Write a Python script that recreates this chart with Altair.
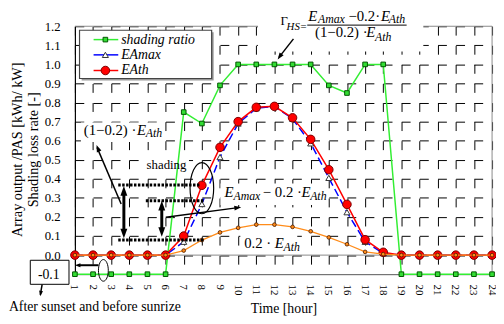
import altair as alt
import pandas as pd

FONT = "Liberation Serif"

# ---------------- data ----------------
hours = [1, 2, 3, 4, 5, 6, 7, 8, 9, 10, 11, 12, 13, 14, 15, 16, 17, 18, 19, 20, 21, 22, 23, 24]
shading_ratio = [-0.1, -0.1, -0.1, -0.1, -0.1, -0.1, 0.75, 0.69, 0.89, 1.0, 1.0, 1.0,
                 1.0, 1.0, 0.89, 0.85, 1.0, 1.0, -0.1, -0.1, -0.1, -0.1, -0.1, -0.1]
ea_max = [0, 0, 0, 0, 0, 0, 0.07, 0.268, 0.514, 0.69, 0.77, 0.78,
          0.715, 0.586, 0.405, 0.225, 0.07, 0.01, 0, 0, 0, 0, 0, 0]
ea_th = [0, 0, 0, 0, 0, 0, 0.10, 0.366, 0.565, 0.70, 0.775, 0.78,
         0.72, 0.607, 0.448, 0.266, 0.081, 0.015, 0, 0, 0, 0, 0, 0]
ea_th_02 = [0, 0, 0, 0, 0, 0, 0.024, 0.079, 0.119, 0.143, 0.160, 0.160,
            0.148, 0.125, 0.093, 0.057, 0.017, 0.005, 0, 0, 0, 0, 0, 0]
y_ticks = [0.0, 0.1, 0.2, 0.3, 0.4, 0.5, 0.6, 0.7, 0.8, 0.9, 1.0, 1.1, 1.2]
legend_labels = ["shading ratio", "EAmax", "EAth"]

df = pd.DataFrame({"h": hours, "shade": shading_ratio, "amax": ea_max,
                   "ath": ea_th, "a02": ea_th_02})

# ---------------- scales / axes ----------------
xs = alt.Scale(domain=[1, 24], nice=False, zero=False)
ys = alt.Scale(domain=[-0.1, 1.2], nice=False, zero=False)
xa = alt.Axis(values=hours, labelAngle=90, labelAlign="left", labelBaseline="middle",
              labelFont=FONT, labelFontSize=11, labelColor="#000", labelPadding=10,
              labelOffset=-1,
              ticks=False, grid=True, gridColor="#000", gridDash=[9, 10.4], gridWidth=1,
              domainColor="#555", domainWidth=1,
              titleFont=FONT, titleFontSize=14, titleFontWeight="normal", titleColor="#000",
              titleX=212, titleY=39, titleBaseline="alphabetic", titleAlign="center")
ya = alt.Axis(values=y_ticks, format=".1f", labelFont=FONT, labelFontSize=13,
              labelColor="#000", labelPadding=15, ticks=False, grid=True, gridColor="#000",
              gridDash=[9, 9.43], gridWidth=1, domainColor="#000", domainWidth=1.2,
              titleFont=FONT, titleFontSize=14.5, titleFontWeight="normal", titleColor="#000",
              titleAngle=-90, titleX=-54, titleY=125, titleAlign="center",
              titleBaseline="alphabetic", titleLineHeight=16.5)
XT = "Time [hour]"
YT = ["Array output /PAS [kWh/ kW]", "Shading loss rate [-]"]


def X(f="h"):
    return alt.X(f + ":Q", scale=xs, axis=xa, title=XT)


def Y(f="v"):
    return alt.Y(f + ":Q", scale=ys, axis=ya, title=YT)


layers = []

# ---------------- frame ----------------
frame = pd.DataFrame({"h": [24, 1], "v": [-0.1, 1.2], "h2": [24, 24], "v2": [1.2, 1.2]})
layers.append(alt.Chart(frame).mark_rule(color="#888", strokeWidth=1).encode(
    x=X(), y=Y(), x2=alt.X2("h2"), y2=alt.Y2("v2")))

# ---------------- white backgrounds behind text ----------------
bg = pd.DataFrame({
    "h": [11.09, 1.33, 4.80, 9.03, 10.12],
    "h2": [20.21, 5.67, 7.29, 14.67, 13.26],
    "v": [1.325, 0.696, 0.515, 0.376, 0.119],
    "v2": [1.067, 0.593, 0.418, 0.263, 0.012],
})
layers.append(alt.Chart(bg).mark_rect(color="white", opacity=1).encode(
    x=X(), x2=alt.X2("h2"), y=Y(), y2=alt.Y2("v2")))

zero = pd.DataFrame({"h": [1], "h2": [24], "v": [0]})
layers.append(alt.Chart(zero).mark_rule(color="#888", strokeWidth=1).encode(
    x=X(), x2=alt.X2("h2"), y=Y()))

# ---------------- data series ----------------
base = alt.Chart(df)
layers.append(base.mark_line(color="#33ee33", strokeWidth=1.5).encode(x=X(), y=Y("shade")))
layers.append(base.mark_point(shape="square", filled=True, fill="#33dd33", stroke="#005500",
                              strokeWidth=1, size=22, opacity=1).encode(x=X(), y=Y("shade")))
layers.append(base.mark_line(color="#0000ff", strokeWidth=1.5, strokeDash=[8, 4]).encode(
    x=X(), y=Y("amax")))
layers.append(base.mark_line(color="#ff0000", strokeWidth=1.5).encode(x=X(), y=Y("ath")))
layers.append(base.mark_point(shape="triangle-up", filled=True, fill="white", stroke="#333",
                              strokeWidth=1, size=38, opacity=1).encode(x=X(), y=Y("amax")))
layers.append(base.mark_point(shape="circle", filled=True, fill="#ff0000", stroke="#7a0000",
                              strokeWidth=1, size=75, opacity=1).encode(x=X(), y=Y("ath")))
layers.append(base.mark_line(color="#ff8c1a", strokeWidth=1.3).encode(x=X(), y=Y("a02")))
layers.append(base.mark_point(shape="circle", filled=True, fill="#ff8c1a", stroke="#4a1a00",
                              strokeWidth=0.8, size=14, opacity=1).encode(x=X(), y=Y("a02")))

# ---------------- annotation lines ----------------
thin = pd.DataFrame({
    "h": [13.05, 3.55, 6.01, -0.807],
    "v": [1.134, 0.268, 0.199, -0.153],
    "h2": [12.25, 2.22, 10.0, -0.905],
    "v2": [1.037, 0.565, 0.249, -0.208],
})
layers.append(alt.Chart(thin).mark_rule(color="#000", strokeWidth=1.5).encode(
    x=X(), y=Y(), x2=alt.X2("h2"), y2=alt.Y2("v2")))

hline = pd.DataFrame({"h": [2.30], "v": [-0.053], "h2": [1.2], "v2": [-0.053]})
layers.append(alt.Chart(hline).mark_rule(color="#000", strokeWidth=2).encode(
    x=X(), y=Y(), x2=alt.X2("h2"), y2=alt.Y2("v2")))

thick = pd.DataFrame({"h": [3.70, 5.79], "v": [0.325, 0.248], "h2": [3.70, 5.79],
                      "v2": [0.125, 0.133]})
layers.append(alt.Chart(thick).mark_rule(color="#000", strokeWidth=3).encode(
    x=X(), y=Y(), x2=alt.X2("h2"), y2=alt.Y2("v2")))

dotted = pd.DataFrame({"h": [3.39, 4.91, 3.39], "v": [0.368, 0.285, 0.079],
                       "h2": [7.89, 8.11, 8.11], "v2": [0.368, 0.285, 0.079]})
layers.append(alt.Chart(dotted).mark_rule(color="#000", strokeWidth=3, strokeDash=[2.5, 1.5]).encode(
    x=X(), y=Y(), x2=alt.X2("h2"), y2=alt.Y2("v2")))

# arrow heads (tip at the point, rotated)
HEAD = "M0,0L-0.5,1.4L0.5,1.4Z"
heads = pd.DataFrame({
    "h": [12.18, 2.19, 10.17, 3.70, 3.70, 5.79, 5.79, 1.0, -0.915],
    "v": [1.026, 0.577, 0.251, 0.362, 0.088, 0.285, 0.096, -0.053, -0.216],
    "a": [214.8, 337.4, 82.6, 0, 180, 0, 180, 270, 189.2],
    "s": [100, 100, 100, 196, 196, 196, 196, 64, 64],
})
layers.append(alt.Chart(heads).mark_point(shape=HEAD, filled=True, color="#000", opacity=1,
                                          strokeWidth=0).encode(
    x=X(), y=Y(), angle=alt.Angle("a:Q", scale=None),
    size=alt.Size("s:Q", scale=None, legend=None)))

# ellipses
ELL1 = ("M0.4615,0 C0.4615,0.5523 0.2549,1 0,1 C-0.2549,1 -0.4615,0.5523 -0.4615,0 "
        "C-0.4615,-0.5523 -0.2549,-1 0,-1 C0.2549,-1 0.4615,-0.5523 0.4615,0 Z")
ELL2 = ("M0.4545,0 C0.4545,0.5523 0.251,1 0,1 C-0.251,1 -0.4545,0.5523 -0.4545,0 "
        "C-0.4545,-0.5523 -0.251,-1 0,-1 C0.251,-1 0.4545,-0.5523 0.4545,0 Z")
e1 = pd.DataFrame({"h": [8.0], "v": [0.351]})
e2 = pd.DataFrame({"h": [2.57], "v": [-0.080]})
layers.append(alt.Chart(e1).mark_point(shape=ELL1, filled=False, stroke="#000", strokeWidth=1.2,
                                       size=2704, opacity=1).encode(x=X(), y=Y()))
layers.append(alt.Chart(e2).mark_point(shape=ELL2, filled=False, stroke="#000", strokeWidth=1,
                                       size=484, opacity=1).encode(x=X(), y=Y()))

# -0.1 box
box = pd.DataFrame({"h": [-1.46], "h2": [0.674], "v": [-0.027], "v2": [-0.153]})
layers.append(alt.Chart(box).mark_rect(fill="white", stroke="#000", strokeWidth=1, opacity=1).encode(
    x=X(), x2=alt.X2("h2"), y=Y(), y2=alt.Y2("v2")))

# ---------------- texts ----------------
normal_txt = pd.DataFrame({
    "t": ["Γ", "−0.2·", "(1−0.2) ·", "(1−0.2) ·", "− 0.2 ·", "0.2 ·",
          "After sunset and before sunrize"],
    "h": [12.34, 16.08, 14.24, 1.49, 11.36, 10.33, -2.64],
    "v": [1.206, 1.229, 1.145, 0.629, 0.304, 0.036, -0.294],
    "s": [13, 15, 15, 15, 15, 15, 14],
})
italic_txt = pd.DataFrame({
    "t": ["HS=", "E", "Amax", "E", "Ath", "E", "Ath",
          "E", "Ath",
          "E", "Amax", "E", "Ath",
          "E", "Ath"],
    "h": [12.67, 13.86, 14.40, 17.87, 18.31, 17.06, 17.55,
          4.42, 4.91,
          9.25, 9.74, 13.49, 13.97,
          12.02, 12.50],
    "v": [1.181, 1.229, 1.216, 1.229, 1.216, 1.145, 1.124,
          0.629, 0.619,
          0.304, 0.289, 0.304, 0.289,
          0.036, 0.021],
    "s": [11, 15, 12, 15, 12, 15, 12,
          15, 12,
          15, 12, 15, 12,
          15, 12],
})
center_txt = pd.DataFrame({"t": ["shading", "-0.1"], "h": [6.05, -0.44],
                           "v": [0.454, -0.124], "s": [13, 14]})

layers.append(alt.Chart(normal_txt).mark_text(font=FONT, align="left", baseline="alphabetic",
                                              color="#000").encode(
    x=X(), y=Y(), text="t:N", size=alt.Size("s:Q", scale=None, legend=None)))
layers.append(alt.Chart(italic_txt).mark_text(font=FONT, align="left", baseline="alphabetic",
                                              fontStyle="italic", color="#000").encode(
    x=X(), y=Y(), text="t:N", size=alt.Size("s:Q", scale=None, legend=None)))
layers.append(alt.Chart(center_txt).mark_text(font=FONT, align="center", baseline="alphabetic",
                                              color="#000").encode(
    x=X(), y=Y(), text="t:N", size=alt.Size("s:Q", scale=None, legend=None)))

# fraction bar
frac = pd.DataFrame({"h": [13.81], "h2": [19.29], "v": [1.206]})
layers.append(alt.Chart(frac).mark_rule(color="#000", strokeWidth=1).encode(
    x=X(), x2=alt.X2("h2"), y=Y()))

# ---------------- legend (drawn in data space) ----------------
shadow = pd.DataFrame({"h": [1.37], "h2": [8.65], "v": [1.169], "v2": [0.916]})
layers.append(alt.Chart(shadow).mark_rect(color="#999", opacity=1).encode(
    x=X(), x2=alt.X2("h2"), y=Y(), y2=alt.Y2("v2")))
lbox = pd.DataFrame({"h": [1.255], "h2": [8.54], "v": [1.179], "v2": [0.926]})
layers.append(alt.Chart(lbox).mark_rect(fill="white", stroke="#444", strokeWidth=1.2, opacity=1).encode(
    x=X(), x2=alt.X2("h2"), y=Y(), y2=alt.Y2("v2")))

rows_v = [1.130, 1.050, 0.968]
leg_colors = ["#33ee33", "#0000ff", "#ff0000"]
for i, col in enumerate(leg_colors):
    seg = pd.DataFrame({"h": [2.03], "h2": [3.39], "v": [rows_v[i]]})
    layers.append(alt.Chart(seg).mark_rule(color=col, strokeWidth=1.5).encode(
        x=X(), x2=alt.X2("h2"), y=Y()))
m1 = pd.DataFrame({"h": [2.68], "v": [rows_v[0]]})
m2 = pd.DataFrame({"h": [2.68], "v": [rows_v[1]]})
m3 = pd.DataFrame({"h": [2.68], "v": [rows_v[2]]})
layers.append(alt.Chart(m1).mark_point(shape="square", filled=True, fill="#33dd33", stroke="#005500",
                                       strokeWidth=1, size=22, opacity=1).encode(x=X(), y=Y()))
layers.append(alt.Chart(m2).mark_point(shape="triangle-up", filled=True, fill="white", stroke="#333",
                                       strokeWidth=1, size=38, opacity=1).encode(x=X(), y=Y()))
layers.append(alt.Chart(m3).mark_point(shape="circle", filled=True, fill="#ff0000", stroke="#7a0000",
                                       strokeWidth=1, size=75, opacity=1).encode(x=X(), y=Y()))
leg_txt = pd.DataFrame({"t": legend_labels, "h": [3.55, 3.55, 3.55], "v": rows_v})
layers.append(alt.Chart(leg_txt).mark_text(font=FONT, fontSize=14, fontStyle="italic", align="left",
                                           baseline="middle", color="#000").encode(
    x=X(), y=Y(), text="t:N"))

chart = alt.layer(*layers).properties(
    width=424, height=252,
    autosize=alt.AutoSizeParams(type="none"),
    padding={"left": 68, "top": 16, "right": 4, "bottom": 44},
    background="white",
).configure_view(stroke=None)

chart.save("out.html", embed_options={"renderer": "svg", "actions": False})
